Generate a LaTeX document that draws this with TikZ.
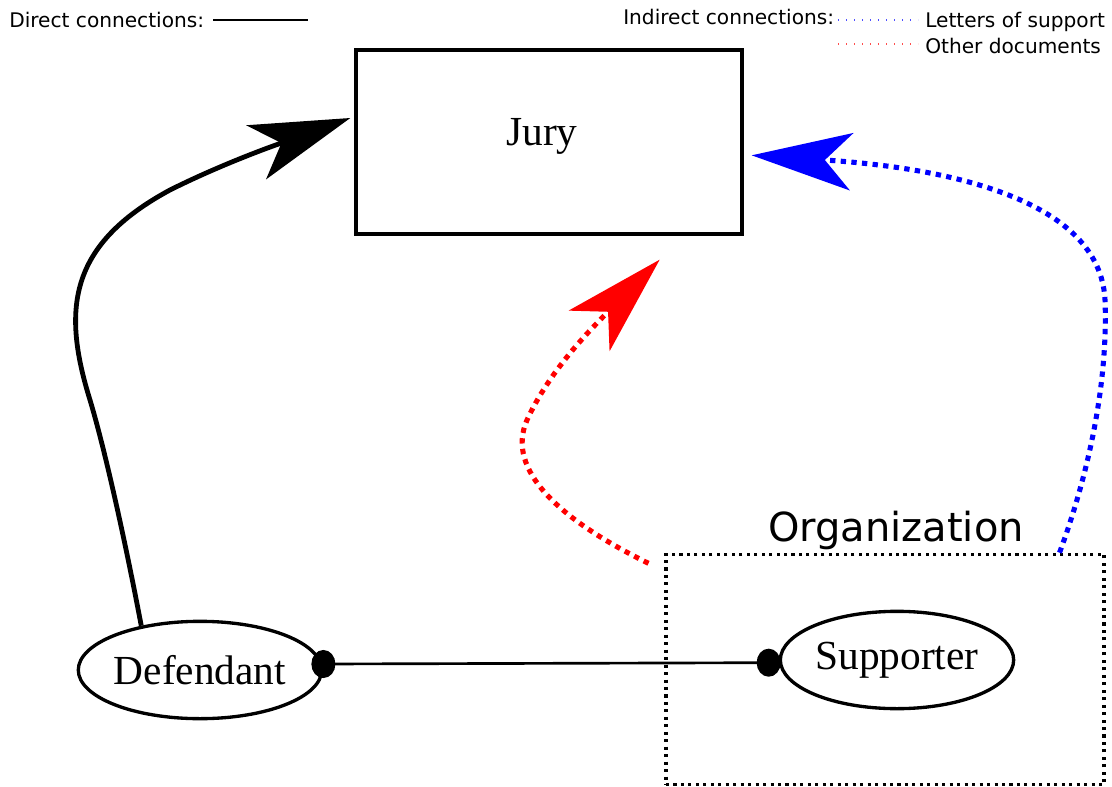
\documentclass[tikz,border=0pt]{standalone}
\usepackage{fontspec}
\setmainfont{Liberation Serif}
\newfontfamily\sansf{DejaVu Sans}
\usetikzlibrary{arrows.meta,shapes.geometric}
\begin{document}
\begin{tikzpicture}[x=0.75pt,y=-0.75pt,
  legendtext/.style={font=\sansf\fontsize{15.1}{17}\selectfont, inner sep=0pt},
  serifbig/.style={font=\fontsize{31}{36}\selectfont},
  jurybox/.style={draw, line width=2.5pt, minimum width=289.5pt, minimum height=138pt, inner sep=0pt},
  person/.style={draw, ellipse, line width=2.5pt, minimum width=175pt, minimum height=73pt, inner sep=0pt, serifbig},
  orgbox/.style={draw, line width=2.3pt, dash pattern=on 2.3pt off 3.3pt, minimum width=328.5pt, minimum height=173pt, inner sep=0pt},
  bigtip/.style={-{Stealth[length=75pt,width=43pt,inset=20pt]}},
  directarrow/.style={bigtip, line width=3.6pt},
  lettersarrow/.style={bigtip, blue, line width=3.8pt, dash pattern=on 4pt off 4pt},
  othersarrow/.style={bigtip, red, line width=3.8pt, dash pattern=on 4pt off 4pt},
  link/.style={line width=2pt, {Circle[length=18pt,width=21pt]}-{Circle[length=18pt,width=21pt]}, shorten <=-9pt, shorten >=-1.5pt},
  legendline/.style={line width=1pt},
  legenddots/.style={line width=1pt, dash pattern=on 1pt off 5pt}
]
\useasboundingbox (0,0) rectangle (1112,787);

% legend
\node[legendtext, anchor=base west] (directlbl) at (9,28) {Direct connections:};
\coordinate (dl1) at (213,20);
\coordinate (dl2) at (308,20);
\draw[legendline] (dl1) -- (dl2);
\node[legendtext, anchor=base west] (indirectlbl) at (623,25) {Indirect connections:};
\coordinate (bl1) at (838,20);
\coordinate (bl2) at (918,20);
\draw[legenddots, blue!70] (bl1) -- (bl2);
\node[legendtext, anchor=base west] (letterslbl) at (925,28) {Letters of support};
\coordinate (rl1) at (838,44);
\coordinate (rl2) at (918,44);
\draw[legenddots, red!70] (rl1) -- (rl2);
\node[legendtext, anchor=base west] (otherlbl) at (925,54) {Other documents};

% main nodes
\node[jurybox] (jury) at (549,142) {};
\node[serifbig, inner sep=0pt, anchor=base] (jurytext) at (542,146) {Jury};
\node[person] (defendant) at (200,670) {Defendant};
\node[orgbox] (org) at (885,669.5) {};
\node[font=\sansf\fontsize{30}{35}\selectfont, inner sep=0pt, anchor=base] (orglbl) at (896,541) {Organization};
\node[person] (supporter) at (897,660) {Supporter};

% connectors
\draw[link] ([yshift=4.5pt]defendant.east) -- ([yshift=-2pt]supporter.west);

\draw[directarrow] (defendant.143) .. controls (125,540) and (105,450) .. (90,400)
  .. controls (62,310) and (68,245) .. (170,190)
  .. controls (230,160) and (290,140) .. ([xshift=-3pt,yshift=18pt]jury.west);

\draw[lettersarrow] ([xshift=-34.5pt]org.north east) .. controls (1090,470) and (1108,380) .. (1105,300)
  .. controls (1100,200) and (950,168) .. ([xshift=6pt,yshift=-10pt]jury.east);

\draw[othersarrow] ([xshift=-12pt,yshift=-8pt]org.north west) .. controls (560,520) and (505,470) .. (527,420)
  .. controls (550,370) and (590,330) .. ([xshift=83pt,yshift=-18pt]jury.south);
\end{tikzpicture}
\end{document}
